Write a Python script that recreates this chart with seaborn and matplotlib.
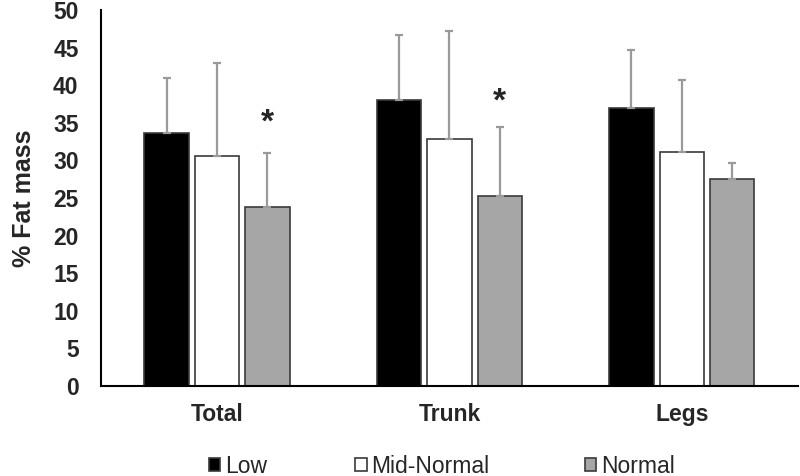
import numpy as np
import pandas as pd
import matplotlib
matplotlib.use("Agg")
import matplotlib.pyplot as plt
import seaborn as sns

# ── Données ───────────────────────────────────────────────────────────────
regions = ["Total", "Trunk", "Legs"]
groups = ["Low", "Mid-Normal", "Normal"]
low_mean = [33.6, 38.0, 37.0]
mid_mean = [30.6, 32.8, 31.1]
norm_mean = [23.8, 25.3, 27.5]
low_sd = [7.3, 8.7, 7.7]
mid_sd = [12.3, 14.4, 9.6]
norm_sd = [7.2, 9.2, 2.2]
star_y = [35.0, 37.8, None]  # astérisque sur "Normal"

colors = {"Low": "#000000", "Mid-Normal": "#ffffff", "Normal": "#a6a6a6"}

df = pd.DataFrame({
    "region": regions * 3,
    "group": sum([[g] * 3 for g in groups], []),
    "value": low_mean + mid_mean + norm_mean,
    "sd": low_sd + mid_sd + norm_sd,
})

sns.set_style("white")
plt.rcParams["font.family"] = ["Liberation Sans", "DejaVu Sans"]

fig = plt.figure(figsize=(8, 4.76), dpi=100)
ax = fig.add_axes([0.126, 0.189, 0.8715, 0.79])

sns.barplot(data=df, x="region", y="value", hue="group", order=regions,
            hue_order=groups, palette=colors, width=0.65, gap=0.12,
            edgecolor="#3a3a3a", linewidth=1.2, errorbar=None,
            legend=True, ax=ax)

# barres d'erreur (supérieures uniquement)
for gi, g in enumerate(groups):
    cont = ax.containers[gi]
    sub = df[df["group"] == g].set_index("region").loc[regions]
    xs = [p.get_x() + p.get_width() / 2 for p in cont.patches]
    ax.errorbar(xs, sub["value"], yerr=[np.zeros(3), sub["sd"]],
                fmt="none", ecolor="#9a9a9a", elinewidth=1.6,
                capsize=3, capthick=1.6, zorder=1)

# astérisques
norm_patches = ax.containers[2].patches
for p, sy in zip(norm_patches, star_y):
    if sy is not None:
        ax.text(p.get_x() + p.get_width() / 2, sy, "*", ha="center",
                va="center", fontsize=24, fontweight="bold")

ax.set_xlim(-0.5, 2.5)
ax.set_ylim(0, 50)
ax.set_yticks(range(0, 51, 5))
ax.set_xlabel("")
ax.set_ylabel("% Fat mass", fontsize=18, fontweight="bold", labelpad=12)
ax.tick_params(axis="y", length=0, labelsize=16.5, pad=16)
ax.tick_params(axis="x", length=0, labelsize=16.5, pad=12)
for lbl in ax.get_xticklabels() + ax.get_yticklabels():
    lbl.set_fontweight("bold")
sns.despine(ax=ax)
for s in ["left", "bottom"]:
    ax.spines[s].set_color("black")
    ax.spines[s].set_linewidth(1.5)

# légende : une entrée par position, comme dans Excel
handles, labels = ax.get_legend_handles_labels()
ax.get_legend().remove()
for h, lab, x0 in zip(handles, labels, [0.261, 0.444, 0.731]):
    fig.legend([h], [lab], loc="center left", bbox_to_anchor=(x0, 0.021),
               frameon=False, fontsize=16.5, handlelength=0.5,
               handleheight=0.5, handletextpad=0.2, borderpad=0,
               borderaxespad=0)

plt.savefig("out.png", dpi=100)
plt.close()
